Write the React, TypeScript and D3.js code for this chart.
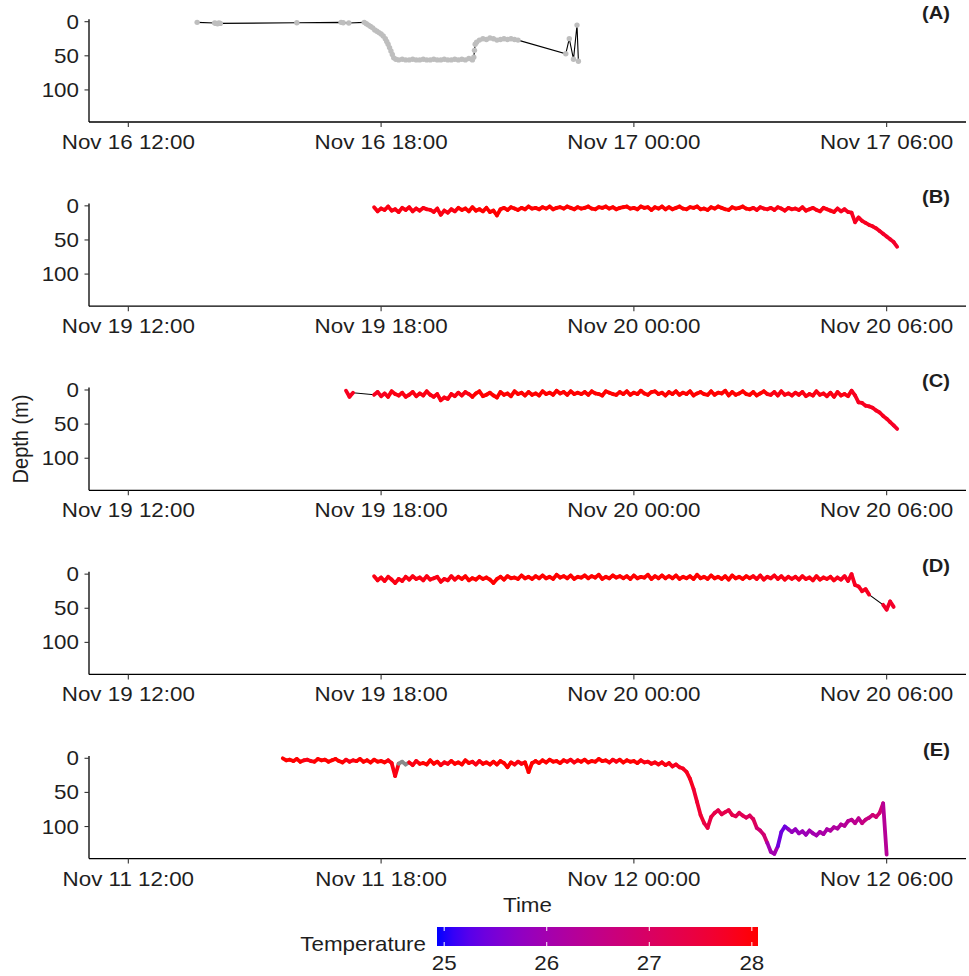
import React from "react";
import * as d3 from "d3";

// ---------------- data ----------------
const panelLabels = ["(A)", "(B)", "(C)", "(D)", "(E)"];
const panelDays = ["2019-11-16", "2019-11-19", "2019-11-19", "2019-11-19", "2019-11-11"];
const depthTicks = [0, 50, 100];
const tempTicks = [25, 26, 27, 28];
const sampleStepMin = 5;

// Panel A (irregular, no temperature)
const aTime = [
  "13:38", "14:03", "14:05", "14:07", "14:09", "14:11", "16:00", "17:03", "17:06", "17:14",
  "17:36", "17:39", "17:42", "17:45", "17:48", "17:51", "17:54", "17:57", "18:00", "18:03",
  "18:06", "18:08", "18:10", "18:12", "18:14", "18:16", "18:18", "18:21",
  "18:25", "18:30", "18:35", "18:40", "18:45", "18:50", "18:55", "19:00", "19:05", "19:10",
  "19:15", "19:20", "19:25", "19:30", "19:35", "19:40", "19:45", "19:50", "19:55", "20:00",
  "20:05", "20:10", "20:12", "20:13", "20:14", "20:16", "20:20", "20:25", "20:30", "20:35",
  "20:40", "20:45", "20:50", "20:55", "21:00", "21:05", "21:10", "21:15",
  "22:23", "22:28", "22:34", "22:39", "22:41",
];
const aDepth = [
  1, 2, 2.5, 3, 2, 2.5, 1.5, 1, 1.5, 2,
  1, 3, 5, 7, 9, 12, 14, 16, 18, 21,
  25, 29, 33, 38, 43, 48, 53, 55,
  56, 55, 56, 56, 55, 56, 56, 55, 56, 56,
  55, 56, 56, 55, 56, 56, 55, 56, 55, 56,
  54, 56, 52, 42, 33, 30, 27, 25, 26, 24,
  25, 27, 26, 25, 26, 25, 26, 27,
  47, 25, 55, 5, 58,
];

// Panel B (5-min samples from bStart; temperature hourly)
const bStart = "2019-11-19T17:50";
const bDepth = [
  2, 8, 4, 6, 1, 7, 5, 9, 3, 6, 2, 8,
  4, 7, 3, 5, 6, 9, 4, 13, 7, 10, 5, 8,
  3, 6, 4, 8, 2, 7, 5, 8, 3, 9, 7, 14,
  5, 3, 6, 2, 4, 6, 3, 5, 1, 4, 3, 5,
  2, 4, 1, 5, 3, 2, 4, 1, 3, 5, 2, 4,
  3, 1, 4, 5, 2, 3, 1, 4, 2, 5, 3, 2,
  1, 4, 3, 5, 1, 3, 2, 6, 2, 4, 1, 5,
  2, 5, 3, 1, 4, 5, 2, 3, 1, 5, 4, 6,
  2, 4, 1, 3, 5, 6, 2, 4, 3, 1, 4, 5,
  3, 6, 2, 4, 5, 3, 6, 2, 4, 7, 3, 5,
  4, 6, 2, 7, 5, 3, 6, 8, 3, 5, 7, 9,
  4, 8, 5, 9, 10, 24, 17, 22, 25, 28, 30, 33,
  37, 41, 45, 49, 53, 60,
];
const bTemp = [27.9, 27.9, 28.0, 28.0, 28.0, 28.0, 28.0, 28.0, 28.0, 27.9, 27.9, 27.8, 27.7];

// Panel C
const cStart = "2019-11-19T17:10";
const cDepth = [
  1, 10, 4, null, null, null, null, null,
  7, 3, 9, 5, 10, 2, 6, 8, 4, 10, 7, 3,
  9, 5, 8, 2, 7, 10, 6, 15, 11, 13, 6, 9,
  4, 8, 3, 6, 10, 5, 2, 9, 7, 4, 8, 11,
  3, 7, 5, 9, 2, 6, 4, 8, 3, 7, 5, 8,
  2, 6, 4, 7, 1, 5, 3, 7, 2, 6, 4, 6,
  3, 7, 2, 5, 6, 8, 2, 4, 6, 7, 3, 6,
  2, 7, 4, 6, 1, 5, 7, 3, 2, 6, 4, 8,
  3, 6, 2, 7, 4, 6, 2, 8, 5, 3, 6, 7,
  2, 7, 4, 5, 1, 8, 3, 7, 5, 2, 6, 7,
  3, 8, 5, 2, 6, 7, 3, 8, 2, 7, 5, 8,
  4, 7, 3, 9, 6, 8, 2, 7, 5, 9, 4, 10,
  3, 8, 6, 9, 1, 8, 18, 19, 23, 24, 26, 30,
  33, 38, 42, 47, 52, 57,
];
const cTemp = [27.8, 27.9, 27.9, 28.0, 28.0, 28.0, 28.0, 28.0, 28.0, 28.0, 27.9, 27.9, 27.8, 27.7];

// Panel D
const dStart = "2019-11-19T17:50";
const dDepth = [
  3, 9, 5, 10, 4, 8, 13, 7, 10, 4, 8, 3,
  7, 5, 9, 3, 8, 6, 4, 11, 7, 9, 3, 8,
  4, 7, 3, 9, 6, 8, 4, 7, 5, 8, 13, 7,
  4, 8, 3, 6, 5, 7, 2, 6, 4, 7, 3, 6,
  2, 6, 4, 7, 1, 5, 3, 6, 2, 7, 4, 5,
  2, 6, 3, 5, 1, 7, 4, 6, 2, 5, 3, 6,
  3, 7, 2, 6, 4, 5, 1, 7, 3, 6, 2, 6,
  3, 6, 2, 7, 4, 6, 3, 7, 1, 6, 4, 7,
  2, 6, 4, 7, 3, 8, 2, 6, 4, 7, 3, 6,
  3, 7, 2, 8, 4, 6, 2, 7, 3, 8, 4, 7,
  4, 8, 3, 7, 5, 9, 3, 8, 5, 7, 4, 9,
  5, 8, 3, 10, 0, 16, 18, 25, 22, 30, null, null,
  null, 45, 52, 40, 48,
];
const dTemp = [27.9, 27.9, 28.0, 28.0, 28.0, 28.0, 28.0, 28.0, 28.0, 27.9, 27.9, 27.8, 27.7];

// Panel E (temperature every 15 min)
const eStart = "2019-11-11T15:40";
const eDepth = [
  0, 3, 2, 4, 1, 5, 3, 2, 4, 5, 1, 3,
  2, 5, 3, 1, 4, 6, 2, 5, 3, 4, 1, 5,
  3, 6, 2, 5, 4, 6, 3, 7, 26, 8, 5, 9,
  6, 10, 4, 8, 7, 9, 3, 8, 5, 10, 6, 8,
  4, 8, 6, 9, 3, 7, 5, 9, 4, 8, 6, 9,
  5, 9, 4, 7, 13, 6, 9, 5, 8, 6, 20, 7,
  4, 7, 3, 6, 2, 5, 4, 7, 3, 5, 2, 6,
  3, 5, 2, 6, 4, 5, 1, 4, 3, 6, 2, 5,
  2, 6, 3, 5, 4, 7, 3, 6, 5, 8, 6, 9,
  6, 10, 7, 12, 9, 13, 15, 20, 30, 45, 64, 83,
  95, 102, 86, 80, 76, 82, 79, 76, 83, 85, 80, 84,
  87, 84, 89, 102, 106, 112, 124, 137, 140, 129, 108, 100,
  104, 108, 104, 110, 107, 112, 106, 110, 113, 108, 111, 104,
  106, 101, 103, 97, 99, 92, 90, 95, 88, 95, 90, 87,
  83, 86, 80, 66, 141,
];
const eTemp = [
  28.0, 28.0, 27.9, 28.0, 28.0, 28.0, 27.9, 28.0, 28.0, 28.0, 27.9, null,
  27.9, 28.0, 28.0, 27.9, 28.0, 28.0, 27.9, 28.0, 28.0, 28.0, 27.9, 28.0,
  28.0, 28.0, 28.0, 27.9, 28.0, 28.0, 28.0, 27.9, 28.0, 28.0, 27.9, 27.9,
  27.9, 27.8, 27.8, 27.6, 27.4, 27.3, 27.3, 27.2, 27.1, 26.8, 26.0, 25.4,
  25.8, 25.9, 26.0, 26.1, 26.2, 26.3, 26.4, 26.6, 26.8, 26.3,
];

// ---------------- layout ----------------
const W = 969;
const H = 976;
const plotLeft = 89;
const plotRight = 966;
const panelTop0 = 19.3;
const panelBottom0 = 122;
const panelPitch = 184.15;
const depthDomain: [number, number] = [-3.5, 147];
const xStartOffsetMin = -56; // relative to 12:00
const xEndOffsetMin = 1193;
const font = "'Liberation Sans', Arial, Helvetica, sans-serif";
const stretch = 1.12;
const textColor = "#1e1e1e";

const tempColor = d3
  .scaleLinear<string>()
  .domain([25, 28])
  .range(["#0000ff", "#ff0000"])
  .interpolate(d3.interpolateLab)
  .clamp(true);

type Pt = { t: Date; d: number | null; temp: number | null };

function sampled(start: string, depth: (number | null)[], temp: (number | null)[], tempStep: number): Pt[] {
  const t0 = new Date(start);
  return depth.map((d, i) => {
    const mins = i * sampleStepMin;
    const ti = Math.floor(mins / tempStep);
    const tv = temp[ti];
    return { t: d3.timeMinute.offset(t0, mins), d, temp: tv === undefined ? null : tv };
  });
}

const seriesA: Pt[] = aTime.map((s, i) => ({ t: new Date(`${panelDays[0]}T${s}`), d: aDepth[i], temp: null }));
const seriesList: Pt[][] = [
  seriesA,
  sampled(bStart, bDepth, bTemp, 60),
  sampled(cStart, cDepth, cTemp, 60),
  sampled(dStart, dDepth, dTemp, 60),
  sampled(eStart, eDepth, eTemp, 15),
];

function SText(props: { x: number; y: number; anchor?: string; size?: number; weight?: string; children: React.ReactNode }) {
  const { x, y, anchor = "middle", size = 20, weight = "normal", children } = props;
  return (
    <text
      transform={`translate(${x},${y}) scale(${stretch},1)`}
      textAnchor={anchor}
      fontSize={size}
      fontWeight={weight}
      fontFamily={font}
      fill={textColor}
    >
      {children}
    </text>
  );
}

function Panel({ i }: { i: number }) {
  const series = seriesList[i];
  const noon = new Date(`${panelDays[i]}T12:00`);
  const x = d3
    .scaleTime()
    .domain([d3.timeMinute.offset(noon, xStartOffsetMin), d3.timeMinute.offset(noon, xEndOffsetMin)])
    .range([plotLeft, plotRight]);
  const top = panelTop0 + i * panelPitch;
  const bottom = panelBottom0 + i * panelPitch;
  const y = d3.scaleLinear().domain(depthDomain).range([top, bottom]);
  const fmt = d3.timeFormat("%b %d %H:%M");
  const xticks = x.ticks(d3.timeHour.every(6) as any);

  const valid = series.filter((p) => p.d !== null);
  const line = d3
    .line<Pt>()
    .x((p) => x(p.t))
    .y((p) => y(p.d as number));

  const segs: React.ReactNode[] = [];
  const dots: React.ReactNode[] = [];
  if (i === 0) {
    valid.forEach((p, k) => {
      dots.push(<circle key={k} cx={x(p.t)} cy={y(p.d as number)} r={2.7} fill="#bebebe" />);
    });
  } else {
    for (let k = 0; k < series.length; k++) {
      const p = series[k];
      if (p.d === null) continue;
      const col = p.temp === null ? "#8a8a8a" : tempColor(p.temp);
      const next = series[k + 1];
      const prev = series[k - 1];
      if (next && next.d !== null) {
        segs.push(
          <line
            key={`s${k}`}
            x1={x(p.t)}
            y1={y(p.d)}
            x2={x(next.t)}
            y2={y(next.d)}
            stroke={col}
            strokeWidth={3.8}
            strokeLinecap="round"
          />
        );
      } else if (!prev || prev.d === null) {
        dots.push(<circle key={`d${k}`} cx={x(p.t)} cy={y(p.d)} r={2} fill={col} />);
      }
    }
  }

  return (
    <g>
      <path d={line(valid) || ""} fill="none" stroke="#000" strokeWidth={1.1} />
      {segs}
      {dots}
      <line x1={plotLeft} x2={plotLeft} y1={top} y2={bottom} stroke="#000" strokeWidth={1.3} />
      <line x1={plotLeft} x2={plotRight} y1={bottom} y2={bottom} stroke="#000" strokeWidth={1.3} />
      {depthTicks.map((t) => (
        <g key={`y${t}`}>
          <line x1={plotLeft - 4.5} x2={plotLeft} y1={y(t)} y2={y(t)} stroke="#333" strokeWidth={1.1} />
          <SText x={plotLeft - 10} y={y(t) + 7} anchor="end">
            {t}
          </SText>
        </g>
      ))}
      {xticks.map((t, k) => (
        <g key={`x${k}`}>
          <line x1={x(t)} x2={x(t)} y1={bottom} y2={bottom + 5} stroke="#333" strokeWidth={1.1} />
          <SText x={x(t)} y={bottom + 27}>
            {fmt(t)}
          </SText>
        </g>
      ))}
      <SText x={950} y={y(0) - 2.5} anchor="end" size={18} weight="bold">
        {panelLabels[i]}
      </SText>
    </g>
  );
}

export default function App() {
  const tempX = d3.scaleLinear().domain([24.93, 28.06]).range([437, 758]);
  const barTop = 927;
  const barBottom = 946;
  const stops = d3.range(0, 1.0001, 0.05);
  const [t0, t1] = tempX.domain();
  return (
    <svg width={W} height={H} style={{ position: "absolute", left: 0, top: 0, background: "#fff" }}>
      <defs>
        <linearGradient id="tempGrad" x1="0" x2="1" y1="0" y2="0">
          {stops.map((s) => (
            <stop key={s} offset={s} stopColor={tempColor(t0 + s * (t1 - t0))} />
          ))}
        </linearGradient>
      </defs>
      <rect x={0} y={0} width={W} height={H} fill="#fff" />
      {panelLabels.map((_, i) => (
        <Panel key={i} i={i} />
      ))}
      <text
        transform={`translate(28,439) scale(${stretch},1) rotate(-90)`}
        textAnchor="middle"
        fontSize={20}
        fontFamily={font}
        fill={textColor}
      >
        Depth (m)
      </text>
      <SText x={(plotLeft + plotRight) / 2} y={912}>
        Time
      </SText>
      <SText x={426} y={951} anchor="end">
        Temperature
      </SText>
      <rect x={tempX.range()[0]} y={barTop} width={tempX.range()[1] - tempX.range()[0]} height={barBottom - barTop} fill="url(#tempGrad)" />
      {tempTicks.map((t) => (
        <g key={t}>
          <line x1={tempX(t)} x2={tempX(t)} y1={barTop} y2={barTop + 4} stroke="#fff" strokeWidth={1} />
          <line x1={tempX(t)} x2={tempX(t)} y1={barBottom - 4} y2={barBottom} stroke="#fff" strokeWidth={1} />
          <SText x={tempX(t)} y={970}>
            {t}
          </SText>
        </g>
      ))}
    </svg>
  );
}
